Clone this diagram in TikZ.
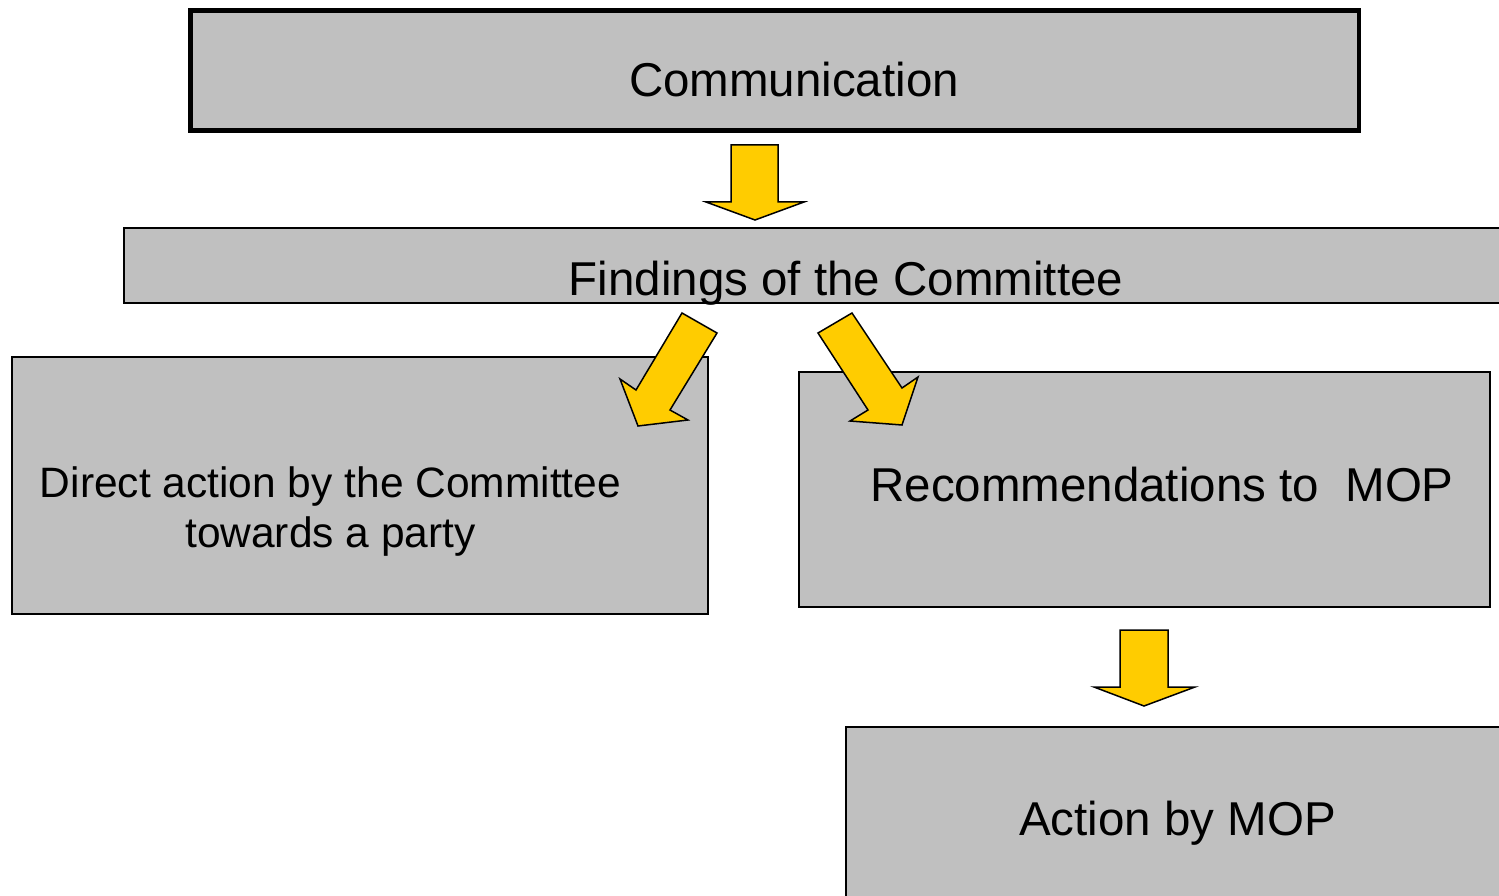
\documentclass[tikz,border=0pt]{standalone}
\usepackage{fontspec}
\setmainfont{Liberation Sans}

\definecolor{boxgray}{HTML}{C0C0C0}
\definecolor{arrowyellow}{HTML}{FFCC00}

\tikzset{
    box/.style={draw, fill=boxgray, line width=1.8pt, inner sep=0pt, outer sep=0pt, anchor=north west},
    boxtext/.style={anchor=base, inner sep=0pt, font=\fontsize{47.5}{55}\selectfont},
    yarrow/.style={draw, fill=arrowyellow, line width=1.5pt, line join=miter}
}

\begin{document}
\begin{tikzpicture}[x=1pt, y=-1pt]
    \useasboundingbox (0,0) rectangle (1499,896);
    \clip (0,0) rectangle (1499,896);

    % Draw Boxes
    \node[box, line width=4.5pt, minimum width=1168.5pt, minimum height=120pt] (comm) at (190.5,10.5) {};
    \node[box, minimum width=1406pt, minimum height=75pt] (findings) at (124,228) {};
    \node[box, minimum width=696pt, minimum height=257pt] (direct) at (12,357) {};
    \node[box, minimum width=691pt, minimum height=235pt] (recom) at (799,372) {};
    \node[box, minimum width=684pt, minimum height=203pt] (action) at (846,727) {};

    % Box Labels
    \node[boxtext] (commtxt) at (794,97) {Communication};
    \node[boxtext] (findingstxt) at (846,295) {Findings of the Committee};
    \node[boxtext, align=center, font=\fontsize{42.5}{50}\selectfont] (directtxt) at (330.5,547)
        {Direct action by the Committee\\towards a party};
    \node[boxtext] (recomtxt) at (1162,501.5) {Recommendations to~ MOP};
    \node[boxtext] (actiontxt) at (1177.5,835) {Action by MOP};

    % Block Arrows
    % -- communication to findings
    \draw[yarrow] (731,145) -- (778,145) -- (778,202) -- (804,202) -- (755,220) -- (706,202) -- (731,202) -- cycle;
    % -- findings to direct action
    \draw[yarrow] (682,313) -- (717,333) -- (670,410) -- (688,420) -- (638,426) -- (620,379) -- (636,390) -- cycle;
    % -- findings to recommendations
    \draw[yarrow] (852,313) -- (818,333) -- (868,410) -- (850,421) -- (902,425) -- (918,377) -- (902,388) -- cycle;
    % -- recommendations to action
    \draw[yarrow] (1120,630) -- (1168,630) -- (1168,687) -- (1195,687) -- (1144,706) -- (1094,687) -- (1120,687) -- cycle;
\end{tikzpicture}
\end{document}
